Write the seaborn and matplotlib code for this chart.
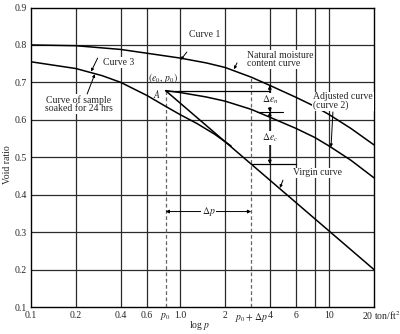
import matplotlib
matplotlib.use("Agg")
import matplotlib.pyplot as plt
import numpy as np
import pandas as pd
import seaborn as sns

# ---- data: void ratio e versus pressure p (ton/ft^2) ----
p0 = 0.8          # in situ overburden pressure
e0 = 0.678        # void ratio at p0 (point A)
p0_dp = 3.0       # p0 + delta p

curve1_p = [0.1, 0.2, 0.4, 0.7, 1.0, 1.5, 2.0, 3.0, 4.0, 6.0, 8.0, 10.0, 14.0, 20.0]
curve1_e = [0.800, 0.798, 0.788, 0.774, 0.765, 0.752, 0.740, 0.714, 0.692, 0.660,
            0.636, 0.614, 0.577, 0.533]

curve3_p = [0.1, 0.2, 0.3, 0.4, 0.6, 0.8, 1.0, 1.3, 1.7, 2.2]
curve3_e = [0.755, 0.737, 0.718, 0.700, 0.665, 0.636, 0.614, 0.590, 0.562, 0.530]

curve2_p = [0.8, 1.0, 1.5, 2.0, 3.0, 4.0, 6.0, 8.0, 10.0, 14.0, 20.0]
curve2_e = [0.678, 0.673, 0.661, 0.650, 0.628, 0.607, 0.577, 0.553, 0.530, 0.492, 0.445]

virgin_p = [0.8, 20.0]
virgin_e = [0.678, 0.200]

e_tick = 0.621    # level between delta e_n and delta e_c
e_virgin_dp = 0.482  # virgin curve at p0 + delta p
e_curve1_4 = 0.692

grid_p = [0.2, 0.4, 0.6, 1.0, 2.0, 4.0, 6.0, 8.0, 10.0]
grid_e = [0.2, 0.3, 0.4, 0.5, 0.6, 0.7, 0.8]

xtick_vals = [0.1, 0.2, 0.4, 0.6, p0, 1.0, 2.0, p0_dp, 4.0, 6.0, 10.0]
xtick_labels = ["0.1", "0.2", "0.4", "0.6", r"$p_0$", "1.0", "2", r"$p_0 + \Delta p$", "4", "6", "10"]
ytick_vals = [0.1, 0.2, 0.3, 0.4, 0.5, 0.6, 0.7, 0.8, 0.9]
ytick_labels = ["0.1", "0.2", "0.3", "0.4", "0.5", "0.6", "0.7", "0.8", "0.9"]

sns.set_theme(style="white")
plt.rcParams["font.family"] = ["Liberation Serif", "DejaVu Serif"]
plt.rcParams["mathtext.fontset"] = "stix"

fig = plt.figure(figsize=(4.0, 3.34), dpi=100)
ax = fig.add_axes([0.0775, 0.0808, 0.8575, 0.8967])
ax.set_xscale("log")
ax.set_xlim(0.1, 20)
ax.set_ylim(0.1, 0.9)

GRID = "#2b2b2b"
for gx in grid_p:
    ax.axvline(gx, color=GRID, lw=0.9, zorder=0)
for gy in grid_e:
    ax.axhline(gy, color=GRID, lw=0.9, zorder=0)

def curve(p, e, **kw):
    df = pd.DataFrame({"p": p, "e": e})
    sns.lineplot(data=df, x="p", y="e", ax=ax, color="black", lw=1.1,
                 sort=False, estimator=None, legend=False, zorder=3, **kw)

curve(curve1_p, curve1_e)
curve(curve3_p, curve3_e)
curve(curve2_p, curve2_e)
curve(virgin_p, virgin_e)
ax.set_xlabel("")
ax.set_ylabel("")

# construction lines
ax.plot([p0, 4.0], [e0, e0], color="black", lw=0.9, zorder=3)
ax.plot([p0, p0], [0.1, e0], color="#666666", lw=0.9, ls=(0, (3, 2)), zorder=2)
ax.plot([p0_dp, p0_dp], [0.1, 0.712], color="#666666", lw=0.9, ls=(0, (3, 2)), zorder=2)
ax.plot([3.3, 4.9], [e_tick, e_tick], color="black", lw=0.8, zorder=3)
ax.plot([p0_dp, 6.0], [e_virgin_dp, e_virgin_dp], color="black", lw=0.9, zorder=3)

arrow_kw = dict(arrowstyle="<|-|>", color="black", lw=0.7, mutation_scale=5, shrinkA=0, shrinkB=0)
ax.annotate("", xy=(4.0, e_tick), xytext=(4.0, e_curve1_4), arrowprops=arrow_kw, zorder=4)
ax.annotate("", xy=(4.0, e_virgin_dp), xytext=(4.0, e_tick), arrowprops=arrow_kw, zorder=4)
ax.annotate("", xy=(p0, 0.355), xytext=(p0_dp, 0.355), arrowprops=arrow_kw, zorder=4)

box = dict(facecolor="white", edgecolor="none", pad=0.6)
fs = 7
ax.text(4.0, 0.653, r"$\Delta e_n$", fontsize=fs, ha="center", va="center", bbox=box, zorder=5)
ax.text(4.0, 0.551, r"$\Delta e_c$", fontsize=fs, ha="center", va="center", bbox=box, zorder=5)
ax.text(1.55, 0.355, r"$\Delta p$", fontsize=fs, ha="center", va="center", bbox=box, zorder=5)
ax.text(0.767, 0.711, r"$(e_0,\, p_0)$", fontsize=fs, ha="center", va="center", zorder=5)
ax.text(0.70, 0.670, r"$A$", fontsize=fs, ha="center", va="center", zorder=5)

lead = dict(arrowstyle="-|>", color="black", lw=0.7, mutation_scale=4, shrinkA=0, shrinkB=0)
ax.text(1.47, 0.829, "Curve 1", fontsize=fs, ha="center", va="center", bbox=box, zorder=5)
ax.annotate("", xy=(1.01, 0.760), xytext=(1.11, 0.781), arrowprops=lead, zorder=5)

ax.text(2.81, 0.762, "Natural moisture\ncontent curve", fontsize=fs, ha="left", va="center",
        linespacing=0.9, bbox=box, zorder=5)
ax.annotate("", xy=(2.30, 0.735), xytext=(2.41, 0.752), arrowprops=lead, zorder=5)

ax.text(0.39, 0.754, "Curve 3", fontsize=fs, ha="center", va="center", bbox=box, zorder=5)
ax.annotate("", xy=(0.253, 0.729), xytext=(0.28, 0.765), arrowprops=lead, zorder=5)

ax.text(0.21, 0.642, "Curve of sample\nsoaked for 24 hrs", fontsize=fs, ha="center", va="center",
        linespacing=0.9, bbox=box, zorder=5)
ax.annotate("", xy=(0.268, 0.722), xytext=(0.238, 0.669), arrowprops=lead, zorder=5)

ax.text(7.78, 0.650, "Adjusted curve\n(curve 2)", fontsize=fs, ha="left", va="center",
        linespacing=0.9, bbox=box, zorder=5)
ax.annotate("", xy=(10.3, 0.527), xytext=(10.6, 0.621), arrowprops=lead, zorder=5)

ax.text(8.41, 0.458, "Virgin curve", fontsize=fs, ha="center", va="center", bbox=box, zorder=5)
ax.annotate("", xy=(4.68, 0.418), xytext=(4.9, 0.439), arrowprops=lead, zorder=5)

# ticks and labels
ax.set_xticks(xtick_vals)
ax.set_xticklabels(xtick_labels, fontsize=fs)
ax.set_xticks([], minor=True)
ax.set_yticks(ytick_vals)
ax.set_yticklabels(ytick_labels, fontsize=fs)
ax.tick_params(axis="both", length=0, pad=3)
ax.annotate(r"20 ton/ft$^2$", xy=(20, 0), xycoords=("data", "axes fraction"),
            xytext=(-9, -1.5), textcoords="offset points", ha="left", va="top", fontsize=fs)

fig.text(0.5, 1 - 325 / 334, r"log $p$", fontsize=fs, ha="center", va="center")
fig.text(8 / 400, 1 - 165 / 334, "Void ratio", fontsize=fs, ha="center", va="center",
         rotation=90)

for s in ax.spines.values():
    s.set_color("black")
    s.set_linewidth(1.0)

fig.savefig("out.png", dpi=100)
